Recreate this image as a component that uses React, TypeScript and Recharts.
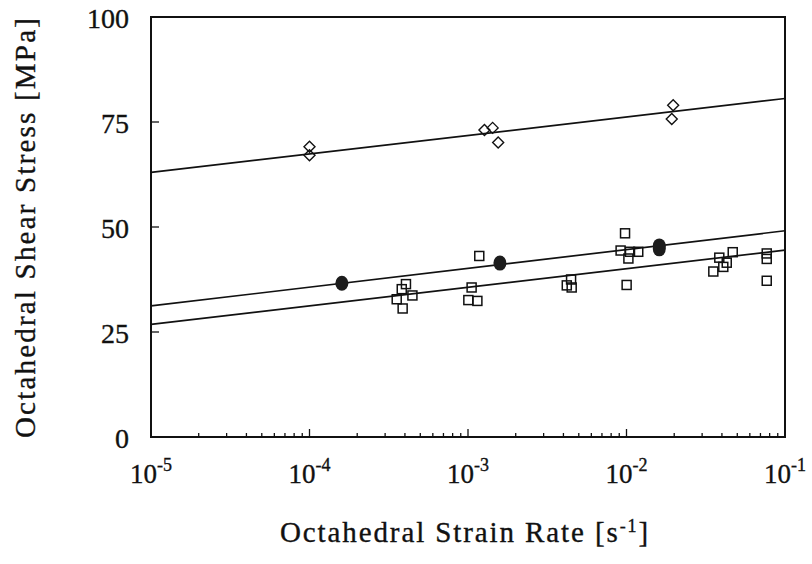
import { ScatterChart, Scatter, XAxis, YAxis, ReferenceArea } from 'recharts'

// fitted lines, stress [MPa] at the two ends of the x range
const fitRates = [1e-5, 1e-1]
const upperFit = [63.0, 80.6]
const middleFit = [31.2, 49.1]
const lowerFit = [26.8, 44.5]

// open diamonds
const diamondRates = [1e-4, 1e-4, 1.27e-3, 1.43e-3, 1.55e-3, 1.93e-2, 1.97e-2]
const diamondStress = [67.1, 69.1, 73.1, 73.6, 70.1, 75.7, 79.0]

// filled circles
const circleRates = [1.6e-4, 1.59e-3, 1.61e-2, 1.61e-2]
const circleStress = [36.6, 41.4, 45.5, 44.8]

// open squares
const squareRates = [
  4.06e-4, 3.82e-4, 3.55e-4, 3.87e-4, 4.46e-4,
  1.054e-3, 1.005e-3, 1.146e-3, 1.178e-3,
  4.2e-3, 4.51e-3, 4.47e-3,
  9.79e-3, 9.18e-3, 1.028e-2, 1.052e-2, 1.186e-2, 1.002e-2,
  3.53e-2, 3.85e-2, 4.08e-2, 4.29e-2, 4.68e-2,
  7.67e-2, 7.67e-2, 7.67e-2,
]
const squareStress = [
  36.4, 35.2, 32.8, 30.6, 33.7,
  35.6, 32.6, 32.4, 43.1,
  36.1, 35.6, 37.5,
  48.5, 44.4, 42.5, 44.1, 44.1, 36.2,
  39.4, 42.7, 40.5, 41.5, 44.0,
  43.7, 42.4, 37.2,
]

const decades = [-5, -4, -3, -2, -1]
const minorSteps = [2, 3, 4, 5, 6, 7, 8, 9]
const stressTicks = [0, 25, 50, 75, 100]

const xTicks = decades.flatMap((e, i) =>
  i === decades.length - 1 ? [10 ** e] : [10 ** e, ...minorSteps.map((m) => m * 10 ** e)]
)

const pairs = (xs: number[], ys: number[]) => xs.map((x, i) => ({ x, y: ys[i] }))

const FONT = '"Liberation Serif", "Times New Roman", serif'
const INK = '#111'
// scanned text looks a little heavier than a plain serif
const heavy = { stroke: INK, strokeWidth: 0.35 }

function RateTick({ x, y, payload }: any) {
  const p = Math.log10(payload.value)
  const major = Math.abs(p - Math.round(p)) < 1e-6
  return (
    <g>
      <line x1={x} x2={x} y1={y} y2={y - (major ? 8 : 4)} stroke={INK} strokeWidth={1.3} />
      {major && (
        <text x={x} y={y + 46} textAnchor="middle" fontFamily={FONT} fontSize={27} fill={INK} {...heavy}>
          10
          <tspan dy={-12} fontSize={18}>
            {String(Math.round(p))}
          </tspan>
        </text>
      )}
    </g>
  )
}

function StressTick({ x, y, payload }: any) {
  return (
    <g>
      <line x1={x} x2={x + 8} y1={y} y2={y} stroke={INK} strokeWidth={1.3} />
      <text x={x - 22} y={y} dy="0.38em" textAnchor="end" fontFamily={FONT} fontSize={28} fill={INK} {...heavy}>
        {payload.value}
      </text>
    </g>
  )
}

function YTitle({ viewBox }: any) {
  const cx = viewBox.x + 25
  const cy = viewBox.y + viewBox.height / 2
  return (
    <text
      x={cx}
      y={cy}
      transform={`rotate(-90 ${cx} ${cy})`}
      textAnchor="middle"
      dominantBaseline="central"
      fontFamily={FONT}
      fontSize={29}
      letterSpacing={2.2}
      fill={INK}
      {...heavy}
    >
      Octahedral Shear Stress [MPa]
    </text>
  )
}

function XTitle({ viewBox }: any) {
  const cx = viewBox.x + viewBox.width / 2 - 3
  const cy = viewBox.y + 105
  return (
    <text x={cx} y={cy} textAnchor="middle" fontFamily={FONT} fontSize={29} letterSpacing={1.9} fill={INK} {...heavy}>
      Octahedral Strain Rate [s
      <tspan dy={-10} fontSize={18}>
        -1
      </tspan>
      <tspan dy={10}>]</tspan>
    </text>
  )
}

const Diamond = ({ cx, cy }: any) => (
  <path
    d={`M${cx},${cy - 5.5}L${cx + 5.5},${cy}L${cx},${cy + 5.5}L${cx - 5.5},${cy}Z`}
    fill="none"
    stroke={INK}
    strokeWidth={1.4}
  />
)

const Square = ({ cx, cy }: any) => (
  <rect x={cx - 4.5} y={cy - 4.5} width={9} height={9} fill="none" stroke={INK} strokeWidth={1.5} />
)

const Dot = ({ cx, cy }: any) => <ellipse cx={cx} cy={cy} rx={6.5} ry={7.5} fill="#1c1c1c" />

const NoMark = () => <g />

export default function App() {
  const lineStyle = { stroke: INK, strokeWidth: 1.7 }
  return (
    <div style={{ position: 'absolute', left: 0, top: 0, background: '#fff' }}>
      <ScatterChart width={812} height={564} margin={{ top: 17, right: 27, bottom: 0, left: 0 }}>
        <XAxis
          dataKey="x"
          type="number"
          scale="log"
          domain={[1e-5, 1e-1]}
          ticks={xTicks}
          interval={0}
          tickSize={0}
          tickMargin={0}
          tickLine={false}
          tick={<RateTick />}
          height={127}
          axisLine={{ stroke: INK, strokeWidth: 2 }}
          label={<XTitle />}
        />
        <YAxis
          dataKey="y"
          type="number"
          domain={[0, 100]}
          ticks={stressTicks}
          interval={0}
          tickSize={0}
          tickMargin={0}
          tickLine={false}
          tick={<StressTick />}
          width={151}
          axisLine={{ stroke: INK, strokeWidth: 2 }}
          label={<YTitle />}
        />
        <ReferenceArea x1={1e-5} x2={1e-1} y1={0} y2={100} fill="none" stroke={INK} strokeWidth={2} />
        <Scatter data={pairs(fitRates, upperFit)} line={lineStyle} shape={NoMark} isAnimationActive={false} />
        <Scatter data={pairs(fitRates, middleFit)} line={lineStyle} shape={NoMark} isAnimationActive={false} />
        <Scatter data={pairs(fitRates, lowerFit)} line={lineStyle} shape={NoMark} isAnimationActive={false} />
        <Scatter data={pairs(diamondRates, diamondStress)} shape={Diamond} isAnimationActive={false} />
        <Scatter data={pairs(squareRates, squareStress)} shape={Square} isAnimationActive={false} />
        <Scatter data={pairs(circleRates, circleStress)} shape={Dot} isAnimationActive={false} />
      </ScatterChart>
    </div>
  )
}
